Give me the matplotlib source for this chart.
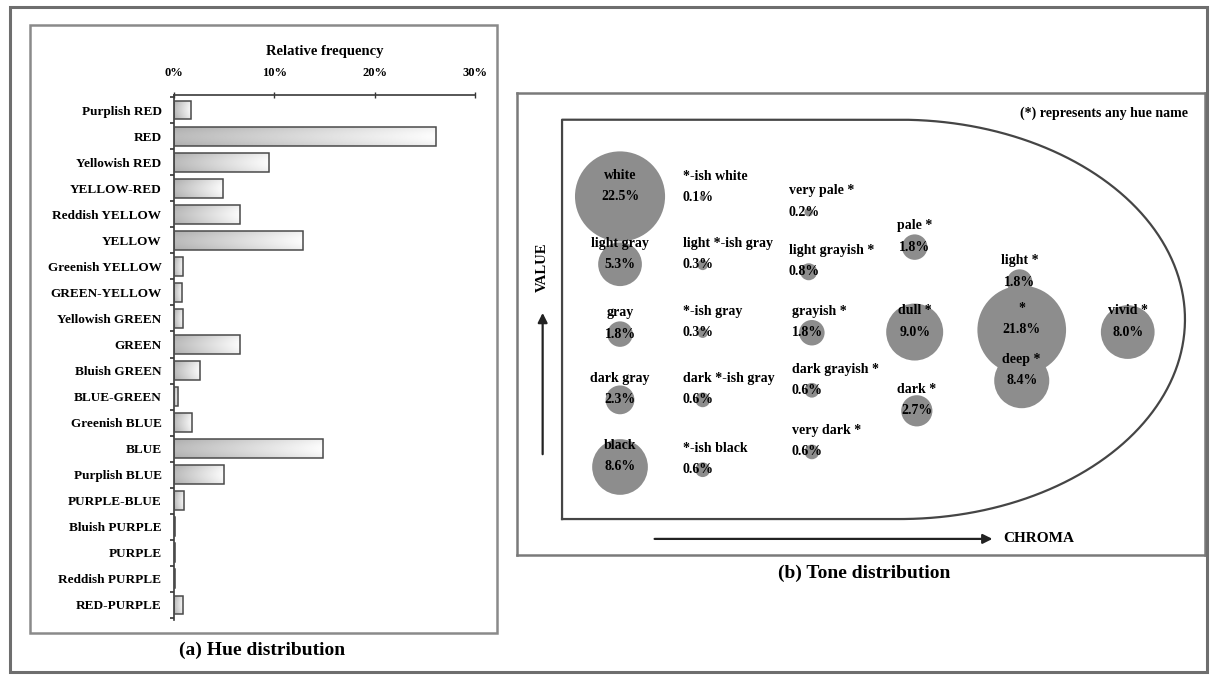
import numpy as np
import matplotlib
matplotlib.use("Agg")
import matplotlib.pyplot as plt
from matplotlib.patches import Rectangle

# ---------------- data ----------------
hue_labels = ["Purplish RED", "RED", "Yellowish RED", "YELLOW-RED", "Reddish YELLOW",
              "YELLOW", "Greenish YELLOW", "GREEN-YELLOW", "Yellowish GREEN", "GREEN",
              "Bluish GREEN", "BLUE-GREEN", "Greenish BLUE", "BLUE", "Purplish BLUE",
              "PURPLE-BLUE", "Bluish PURPLE", "PURPLE", "Reddish PURPLE", "RED-PURPLE"]
hue_freq = [1.7, 26.1, 9.5, 4.9, 6.6, 12.9, 0.9, 0.8, 0.9, 6.6,
            2.6, 0.4, 1.8, 14.9, 5.0, 1.0, 0.1, 0.1, 0.1, 0.9]
freq_ticks = [0, 10, 20, 30]
freq_tick_labels = ["0%", "10%", "20%", "30%"]

tone_names = ["white", "*-ish white", "very pale *", "pale *",
              "light gray", "light *-ish gray", "light grayish *", "light *",
              "gray", "*-ish gray", "grayish *", "dull *", "*", "vivid *", "deep *",
              "dark gray", "dark *-ish gray", "dark grayish *", "dark *",
              "black", "*-ish black", "very dark *"]
tone_pct = [22.5, 0.1, 0.2, 1.8,
            5.3, 0.3, 0.8, 1.8,
            1.8, 0.3, 1.8, 9.0, 21.8, 8.0, 8.4,
            2.3, 0.6, 0.6, 2.7,
            8.6, 0.6, 0.6]
# position in the chroma / value plane (chroma column, value level)
tone_chroma = [0.0, 0.59, 1.59, 2.78,
               0.0, 0.59, 1.59, 3.77,
               0.0, 0.59, 1.62, 2.78, 3.79, 4.79, 3.79,
               0.0, 0.59, 1.62, 2.80,
               0.0, 0.59, 1.62]
tone_value = [3.95, 3.93, 3.72, 3.21,
              2.96, 2.95, 2.85, 2.70,
              1.94, 1.96, 1.96, 1.97, 2.00, 1.97, 1.26,
              0.98, 0.98, 1.12, 0.82,
              0.00, -0.04, 0.22]
tone_left_aligned = [False, True, True, False,
                     False, True, True, False,
                     False, True, True, False, False, False, False,
                     False, True, True, False,
                     False, True, True]

# ---------------- figure ----------------
plt.rcParams["font.family"] = ["Liberation Serif", "DejaVu Serif"]
W, H = 1215, 677
fig = plt.figure(figsize=(W / 100, H / 100), dpi=100)


def frect(x0, y0, x1, y1):
    return [x0 / W, 1 - y1 / H, (x1 - x0) / W, (y1 - y0) / H]


def fbox(x0, y0, x1, y1, **kw):
    r = Rectangle((x0 / W, 1 - y1 / H), (x1 - x0) / W, (y1 - y0) / H,
                  transform=fig.transFigure, fill=False, **kw)
    fig.patches.append(r)


fbox(10, 7, 1207, 672, ec="#6e6e6e", lw=2.2)
fbox(30, 25, 497, 633, ec="#8a8a8a", lw=1.8)

# ---------------- (a) hue distribution ----------------
ax = fig.add_axes(frect(174, 95, 475, 620))
n = len(hue_labels)
ypos = np.arange(n)
bars = ax.barh(ypos, hue_freq, height=0.72, color="none", edgecolor="#4a4a4a",
               linewidth=1.1, zorder=3)
gx = np.linspace(0, 1, 200)
gy = np.linspace(0, 1, 20)
GX, GY = np.meshgrid(gx, gy)
grad = 0.68 + 0.26 * GX + 0.05 * np.sin(np.pi * GY)
for b in bars:
    x0, y0, w, h = b.get_x(), b.get_y(), b.get_width(), b.get_height()
    im = ax.imshow(grad, extent=(x0, x0 + w, y0 + h, y0), cmap="gray", vmin=0, vmax=1,
                   aspect="auto", interpolation="bilinear", zorder=2)
    im.set_clip_path(b)
ax.set_xlim(0, 30)
ax.set_ylim(n - 1 + 0.58, -0.58)
ax.xaxis.tick_top()
ax.xaxis.set_label_position("top")
ax.set_xticks(freq_ticks)
ax.set_xticklabels(freq_tick_labels, fontsize=9, fontweight="bold")
ax.tick_params(axis="x", direction="inout", length=5, width=1, pad=9, color="#333")
ax.set_xlabel("Relative frequency", fontsize=10.5, fontweight="bold", labelpad=9)
ax.set_yticks(ypos)
ax.set_yticklabels(hue_labels, fontsize=9.5, fontweight="bold")
ax.tick_params(axis="y", length=0, pad=9)
ax.set_yticks(np.arange(n + 1) - 0.5, minor=True)
ax.tick_params(axis="y", which="minor", length=3, width=1.2, direction="out", color="#333")
for s in ["right", "bottom"]:
    ax.spines[s].set_visible(False)
for s in ["top", "left"]:
    ax.spines[s].set_color("#3a3a3a")
    ax.spines[s].set_linewidth(1.2)
ax.patch.set_alpha(0)

fig.text(262 / W, 1 - 650 / H, "(a) Hue distribution", ha="center", va="center",
         fontsize=14, fontweight="bold")

# ---------------- (b) tone distribution ----------------
ax2 = fig.add_axes(frect(517, 93, 1205, 555))
ax2.set_xlim(-0.972, 5.519)
ax2.set_ylim(-1.285, 5.460)
ax2.set_xticks([])
ax2.set_yticks([])
for s in ax2.spines.values():
    s.set_color("#7a7a7a")
    s.set_linewidth(1.8)

# D-shaped region
x_left, x_c, top, bottom, rx = -0.547, 2.64, 5.07, -0.76, 2.69
yc, ry = (top + bottom) / 2, (top - bottom) / 2
t = np.linspace(np.pi / 2, -np.pi / 2, 200)
dx = np.concatenate([[x_left, x_left, x_c], x_c + rx * np.cos(t), [x_c, x_left]])
dy = np.concatenate([[bottom, top, top], yc + ry * np.sin(t), [bottom, bottom]])
ax2.plot(dx, dy, color="#454545", lw=1.6, zorder=1)

circle_x = [c + (0.19 if la else 0.0) for c, la in zip(tone_chroma, tone_left_aligned)]
ax2.scatter(circle_x, tone_value, s=[187 * p for p in tone_pct], color="#8d8d8d",
            linewidths=0, zorder=2)
for name, p, c, v, la in zip(tone_names, tone_pct, tone_chroma, tone_value, tone_left_aligned):
    ha = "left" if la else "center"
    ax2.text(c, v + 0.31, name, ha=ha, va="center", fontsize=10, fontweight="bold", zorder=3)
    ax2.text(c, v, f"{p:.1f}%", ha=ha, va="center", fontsize=10, fontweight="bold", zorder=3)

ax2.annotate("", xy=(-0.73, 2.29), xytext=(-0.73, 0.146),
             arrowprops=dict(arrowstyle="-|>", color="#222", lw=1.6, mutation_scale=14))
ax2.text(-0.73, 2.92, "VALUE", rotation=90, ha="center", va="center",
         fontsize=10.5, fontweight="bold")
ax2.annotate("", xy=(3.54, -1.05), xytext=(0.30, -1.05),
             arrowprops=dict(arrowstyle="-|>", color="#222", lw=1.6, mutation_scale=14))
ax2.text(3.62, -1.05, "CHROMA", ha="left", va="center", fontsize=11, fontweight="bold")
ax2.text(5.36, 5.17, "(*) represents any hue name", ha="right", va="center",
         fontsize=10, fontweight="bold")

fig.text(864 / W, 1 - 573 / H, "(b) Tone distribution", ha="center", va="center",
         fontsize=14, fontweight="bold")

fig.savefig("out.png", dpi=100)
